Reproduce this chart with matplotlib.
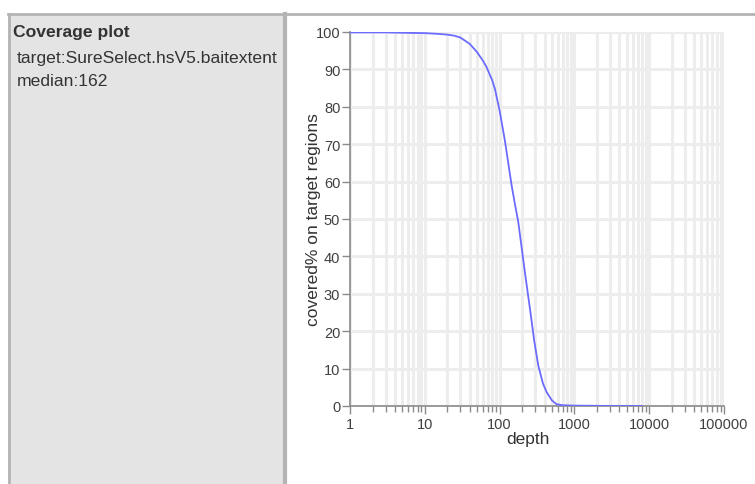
import numpy as np
import matplotlib
matplotlib.use("Agg")
import matplotlib.pyplot as plt
from matplotlib.patches import Rectangle
from matplotlib.lines import Line2D
from matplotlib.ticker import FixedLocator, FixedFormatter, LogLocator, NullFormatter

plt.rcParams['font.family'] = ['Liberation Sans', 'DejaVu Sans']

# coverage curve
depth = [1, 3, 5, 10, 15, 20, 25, 30, 40, 50, 60, 67, 80, 87, 100, 118,
         145, 162, 178, 215, 255, 290, 329, 380, 426, 500, 575, 700, 1000,
         2000, 4000, 8000]
covered = [99.9, 99.9, 99.8, 99.7, 99.5, 99.3, 99.0, 98.5, 96.8, 94.6,
           92.3, 90.6, 87.0, 84.6, 79.0, 70.8, 58.9, 53.5, 49.1, 36.6,
           25.9, 17.5, 10.8, 6.0, 3.7, 1.5, 0.5, 0.2, 0.1, 0.05, 0.0, 0.0]

title = "Coverage plot"
info_lines = ["target:SureSelect.hsV5.baitextent", "median:162"]
x_ticks = [1, 10, 100, 1000, 10000, 100000]
x_labels = ["1", "10", "100", "1000", "10000", "100000"]
y_ticks = list(range(0, 101, 10))

W, H = 755, 485
fig = plt.figure(figsize=(W / 100, H / 100), dpi=100)
fig.patch.set_facecolor("white")

# left info panel
fig.patches.append(Rectangle((8 / W, 0), 276 / W, (H - 15) / H,
                             transform=fig.transFigure, facecolor="#e4e4e4",
                             edgecolor="none", zorder=0))
fig.lines.append(Line2D([8 / W, 1], [(H - 15) / H] * 2, transform=fig.transFigure,
                        color="#b4b4b4", lw=2))
fig.lines.append(Line2D([9 / W] * 2, [0, (H - 15) / H], transform=fig.transFigure,
                        color="#b4b4b4", lw=2))
fig.lines.append(Line2D([284.5 / W] * 2, [0, (H - 15) / H], transform=fig.transFigure,
                        color="#b4b4b4", lw=3))

fig.text(13 / W, 1 - 33 / H, title, fontsize=12.6, fontweight="bold",
         color="#333333", va="center")
for i, s in enumerate(info_lines):
    fig.text(17 / W, 1 - (59 + 23 * i) / H, s, fontsize=12.6, color="#333333",
             va="center")

ax = fig.add_axes([350 / W, 78 / H, 374 / W, 374 / H])
ax.plot(depth, covered, color="#6b6bff", lw=1.3, zorder=3)
ax.set_xscale("log")
ax.set_xlim(1, 100000)
ax.set_ylim(0, 100)

ax.xaxis.set_major_locator(FixedLocator(x_ticks))
ax.xaxis.set_major_formatter(FixedFormatter(x_labels))
ax.xaxis.set_minor_locator(LogLocator(base=10, subs=np.arange(2, 10)))
ax.xaxis.set_minor_formatter(NullFormatter())
ax.set_yticks(y_ticks)

ax.grid(True, which="both", axis="x", color="#ededed", lw=2.2, zorder=0)
ax.grid(True, which="major", axis="y", color="#ededed", lw=2.2, zorder=0)
ax.set_axisbelow(True)

for side in ["top", "right"]:
    ax.spines[side].set_visible(False)
for side in ["left", "bottom"]:
    ax.spines[side].set_color("#8a8a8a")
    ax.spines[side].set_linewidth(1.2)

ax.tick_params(axis="both", which="major", colors="#8a8a8a", labelcolor="#404040",
               labelsize=10.5, length=6, width=1)
ax.tick_params(axis="x", which="minor", colors="#8a8a8a", length=4, width=1)
ax.tick_params(axis="x", pad=2)
ax.tick_params(axis="y", pad=1)

ax.set_xlabel("depth", fontsize=12.5, color="#333333")
ax.set_ylabel("covered% on target regions", fontsize=12.5, color="#333333")
ax.xaxis.set_label_coords(0.476, -0.066)
ax.yaxis.set_label_coords(-0.077, 0.5)

fig.savefig("out.png", dpi=100)
